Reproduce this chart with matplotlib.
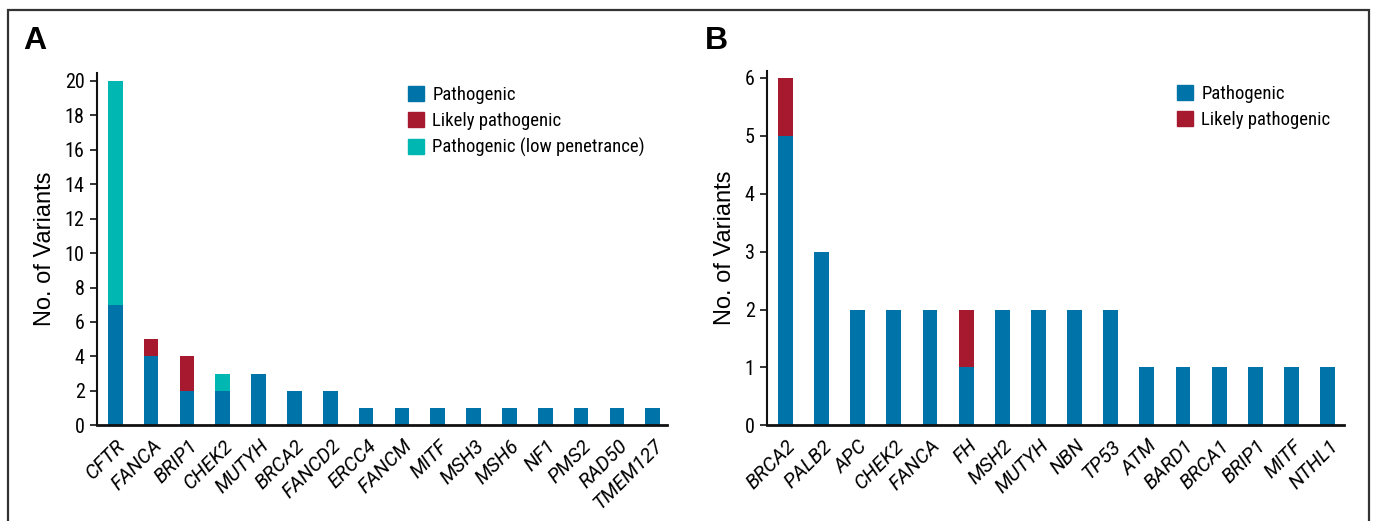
import matplotlib
matplotlib.use("Agg")
import matplotlib.pyplot as plt
from matplotlib import font_manager as fm
from matplotlib.patches import Patch, Rectangle
from matplotlib.transforms import ScaledTranslation
import numpy as np

# ---- data ----
genes_a = ["CFTR", "FANCA", "BRIP1", "CHEK2", "MUTYH", "BRCA2", "FANCD2", "ERCC4",
           "FANCM", "MITF", "MSH3", "MSH6", "NF1", "PMS2", "RAD50", "TMEM127"]
path_a = [7, 4, 2, 2, 3, 2, 2, 1, 1, 1, 1, 1, 1, 1, 1, 1]
likely_a = [0, 1, 2, 0, 0, 0, 0, 0, 0, 0, 0, 0, 0, 0, 0, 0]
lowpen_a = [13, 0, 0, 1, 0, 0, 0, 0, 0, 0, 0, 0, 0, 0, 0, 0]
yticks_a = [0, 2, 4, 6, 8, 10, 12, 14, 16, 18, 20]

genes_b = ["BRCA2", "PALB2", "APC", "CHEK2", "FANCA", "FH", "MSH2", "MUTYH",
           "NBN", "TP53", "ATM", "BARD1", "BRCA1", "BRIP1", "MITF", "NTHL1"]
path_b = [5, 3, 2, 2, 2, 1, 2, 2, 2, 2, 1, 1, 1, 1, 1, 1]
likely_b = [1, 0, 0, 0, 0, 1, 0, 0, 0, 0, 0, 0, 0, 0, 0, 0]
yticks_b = [0, 1, 2, 3, 4, 5, 6]

labels = ["Pathogenic", "Likely pathogenic", "Pathogenic (low penetrance)"]
C_BLUE = "#0073A8"
C_RED = "#A6192E"
C_TEAL = "#00B7B1"


def pick_narrow():
    entries = fm.fontManager.ttflist
    names = {e.name for e in entries}
    for p in ["Liberation Sans Narrow", "Roboto Condensed", "Open Sans Condensed",
              "Noto Sans Condensed", "DejaVu Sans Condensed", "Arial Narrow"]:
        if p in names:
            return p, "normal"
    for cand in ["Noto Sans", "Open Sans", "Roboto", "DejaVu Sans"]:
        for e in entries:
            if e.name == cand and str(e.stretch) in ("condensed", "semi-condensed",
                                                    "extra-condensed"):
                return cand, "condensed"
    return "Roboto", "normal"


NARROW_NAME, NARROW_STRETCH = pick_narrow()
NARROW = [NARROW_NAME, "DejaVu Sans"]
ITAL = ["Roboto", "Liberation Sans", "DejaVu Sans"]
REG = ["Liberation Sans", "DejaVu Sans"]

W, H = 1374, 521
fig = plt.figure(figsize=(W / 100, H / 100), dpi=100)


def fx(px):
    return px / W


def fy(py):
    return 1 - py / H


# outer frame
fig.patches.append(Rectangle((fx(8), fy(540)), fx(1369) - fx(8), fy(9.5) - fy(540),
                             transform=fig.transFigure, fill=False, lw=1.6,
                             edgecolor="#333333", clip_on=False))


def make_ax(left, right, top, bottom):
    return fig.add_axes([fx(left), fy(bottom), fx(right) - fx(left), fy(top) - fy(bottom)])


ax_a = make_ax(97, 666.7, 73, 425.3)
ax_b = make_ax(767.3, 1344.3, 71, 425.3)

bw = 0.41
TICK_FS = 14.5
XT_FS = 14.5


def style(ax, genes, yticks, ylim, xlim):
    x = np.arange(len(genes))
    ax.set_xlim(*xlim)
    ax.set_ylim(*ylim)
    for s in ["top", "right"]:
        ax.spines[s].set_visible(False)
    ax.spines["left"].set_linewidth(1.5)
    ax.spines["bottom"].set_linewidth(2.0)
    ax.spines["left"].set_color("#111111")
    ax.spines["bottom"].set_color("#111111")
    ax.set_yticks(yticks)
    ax.set_yticklabels([str(t) for t in yticks], family=NARROW,
                       stretch=NARROW_STRETCH, fontsize=TICK_FS)
    ax.tick_params(axis="y", length=5, width=1.2, pad=4, color="#111111")
    ax.set_xticks(x)
    ax.set_xticklabels(genes, rotation=45, ha="right", va="top",
                       rotation_mode="anchor", family=ITAL,
                       style="italic", fontsize=XT_FS)
    ax.tick_params(axis="x", length=0, pad=8)
    off = ScaledTranslation(0.5 / 72, 0, fig.dpi_scale_trans)
    for lab in ax.get_xticklabels():
        lab.set_transform(lab.get_transform() + off)
    ax.set_ylabel("No. of Variants", family=REG, fontsize=17, labelpad=6)
    return x


x_a = style(ax_a, genes_a, yticks_a, (0, 20.46), (-0.51, 15.39))
ax_a.bar(x_a, path_a, bw, color=C_BLUE, label=labels[0])
ax_a.bar(x_a, likely_a, bw, bottom=path_a, color=C_RED, label=labels[1])
ax_a.bar(x_a, lowpen_a, bw, bottom=np.array(path_a) + np.array(likely_a),
         color=C_TEAL, label=labels[2])

x_b = style(ax_b, genes_b, yticks_b, (0, 6.12), (-0.50, 15.46))
ax_b.bar(x_b, path_b, bw, color=C_BLUE, label=labels[0])
ax_b.bar(x_b, likely_b, bw, bottom=path_b, color=C_RED, label=labels[1])


def legend(ax, handles, x0, y0):
    leg = ax.legend(handles=handles, loc="upper left",
                    bbox_to_anchor=(fx(x0), fy(y0)), bbox_transform=fig.transFigure,
                    frameon=False,
                    prop={"family": NARROW, "size": 13.5, "stretch": NARROW_STRETCH},
                    handlelength=0.85, handleheight=0.85, handletextpad=0.45,
                    labelspacing=0.42, borderaxespad=0, borderpad=0)
    return leg


legend(ax_a, [Patch(color=C_BLUE, label=labels[0]),
              Patch(color=C_RED, label=labels[1]),
              Patch(color=C_TEAL, label=labels[2])], 408, 86)
legend(ax_b, [Patch(color=C_BLUE, label=labels[0]),
              Patch(color=C_RED, label=labels[1])], 1177, 85)

fig.text(fx(23), fy(41), "A", family=REG, fontweight="bold", fontsize=23, va="center", ha="left")
fig.text(fx(705), fy(41), "B", family=REG, fontweight="bold", fontsize=23, va="center", ha="left")

fig.savefig("out.png", dpi=100)
